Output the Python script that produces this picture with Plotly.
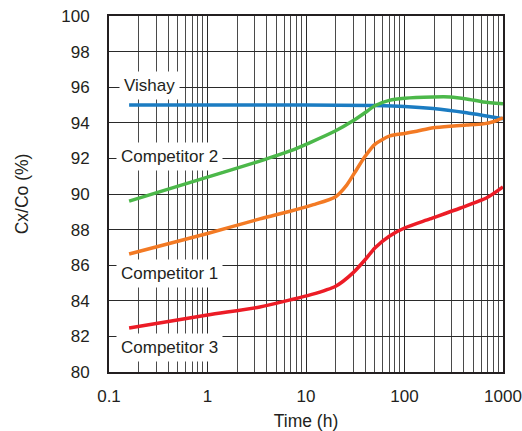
import plotly.graph_objects as go

# ---- data ----
vishay_x = [0.16, 1, 10, 50, 100, 196, 427, 630, 1000]
vishay_y = [95.0, 95.0, 95.0, 94.97, 94.92, 94.8, 94.56, 94.41, 94.22]

comp2_x = [0.16, 1, 3.4, 6.9, 11, 20, 30, 40, 50, 70, 100, 196, 290, 427, 630, 1000]
comp2_y = [89.6, 90.95, 91.85, 92.42, 92.89, 93.55, 94.11, 94.58, 94.96, 95.26, 95.38, 95.45, 95.45, 95.34, 95.17, 95.07]

comp1_x = [0.16, 1, 3.4, 6.9, 11.9, 20, 25.9, 32.7, 40, 50, 71, 100, 133, 196, 290, 427, 630, 795, 1000]
comp1_y = [86.63, 87.78, 88.6, 89.03, 89.4, 89.85, 90.5, 91.38, 92.13, 92.79, 93.26, 93.4, 93.53, 93.72, 93.81, 93.87, 93.94, 94.06, 94.28]

comp3_x = [0.16, 1, 3.4, 6.9, 11, 20, 30, 40, 50, 70, 100, 181, 365, 690, 1000]
comp3_y = [82.47, 83.2, 83.65, 84.05, 84.33, 84.82, 85.57, 86.32, 86.97, 87.63, 88.09, 88.6, 89.2, 89.8, 90.4]

x_tickvals = [0.1, 1, 10, 100, 1000]
x_ticktext = ["0.1", "1", "10", "100", "1000"]
y_tickvals = list(range(80, 101, 2))

series = [
    ("Vishay", vishay_x, vishay_y, "#1b7cc2"),
    ("Competitor 2", comp2_x, comp2_y, "#4cb84a"),
    ("Competitor 1", comp1_x, comp1_y, "#f37a24"),
    ("Competitor 3", comp3_x, comp3_y, "#ec1c26"),
]

minor_vals = [m * 10 ** e for e in range(-1, 3) for m in range(2, 10)]

fig = go.Figure()
for name, xs, ys, col in series:
    fig.add_trace(go.Scatter(x=xs, y=ys, mode="lines", name=name,
                             line=dict(color=col, width=3.5, shape="spline", smoothing=0.7),
                             showlegend=False))

labels = [
    ("Vishay", -0.584, 96.1),
    ("Competitor 2", -0.381, 92.1),
    ("Competitor 1", -0.381, 85.55),
    ("Competitor 3", -0.381, 81.4),
]
for txt, lx, ly in labels:
    fig.add_annotation(x=lx, y=ly, xref="x", yref="y", text=txt, showarrow=False,
                       bgcolor="white", borderpad=4,
                       font=dict(family="Liberation Sans, Arial, sans-serif", size=17, color="#231f20"))

font = dict(family="Liberation Sans, Arial, sans-serif", size=17, color="#231f20")
fig.update_layout(
    width=522, height=431,
    margin=dict(l=109, r=19, t=16, b=59),
    paper_bgcolor="white", plot_bgcolor="white",
    font=font,
    xaxis=dict(type="log", range=[-1, 3], tickvals=x_tickvals, ticktext=x_ticktext,
               showgrid=True, gridcolor="#2a2a2a", gridwidth=1,
               minor=dict(tickvals=minor_vals, showgrid=True, gridcolor="#4a4a4a", gridwidth=1, ticks=""),
               showline=True, linecolor="#231f20", linewidth=2, mirror=True,
               ticks="", ticklabelstandoff=8, zeroline=False, automargin=False,
               title=dict(text="Time (h)", font=dict(size=17.5), standoff=11)),
    yaxis=dict(range=[80, 100], tickvals=y_tickvals,
               showgrid=True, gridcolor="#2a2a2a", gridwidth=1,
               showline=True, linecolor="#231f20", linewidth=2, mirror=True,
               ticks="", ticklabelstandoff=14, zeroline=False, automargin=False,
               title=dict(text="Cx/Co (%)", font=dict(size=17.5), standoff=28)),
)

fig.write_html("out.html")
